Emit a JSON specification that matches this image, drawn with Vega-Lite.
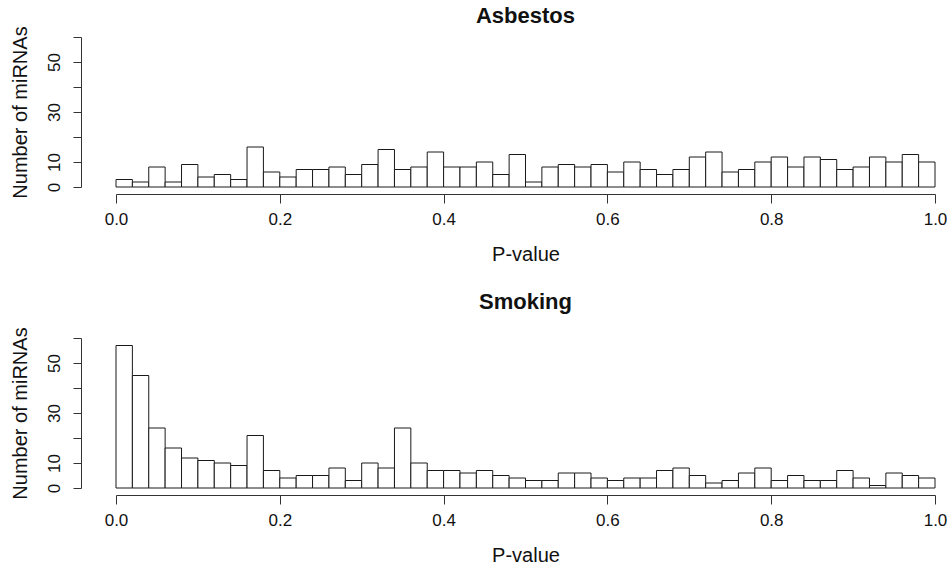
{
  "$schema": "https://vega.github.io/schema/vega-lite/v6.json",
  "padding": {"left": 9, "top": 4, "right": 0, "bottom": 0},
  "config": {
    "font": "Liberation Sans",
    "view": {"stroke": null},
    "axis": {
      "grid": false,
      "domainColor": "#333",
      "tickColor": "#333",
      "labelColor": "#111",
      "titleColor": "#111",
      "labelFont": "Liberation Sans",
      "titleFont": "Liberation Sans",
      "labelFontSize": 17,
      "titleFontSize": 20,
      "titleFontWeight": "normal",
      "labelFlush": false,
      "labelOverlap": false
    },
    "title": {"font": "Liberation Sans", "fontSize": 22, "fontWeight": "bold", "color": "#111"}
  },
  "datasets": {
    "asbestos": [
      {"p0": 0.00, "p1": 0.02, "n": 3}, {"p0": 0.02, "p1": 0.04, "n": 2}, {"p0": 0.04, "p1": 0.06, "n": 8}, {"p0": 0.06, "p1": 0.08, "n": 2}, {"p0": 0.08, "p1": 0.10, "n": 9},
      {"p0": 0.10, "p1": 0.12, "n": 4}, {"p0": 0.12, "p1": 0.14, "n": 5}, {"p0": 0.14, "p1": 0.16, "n": 3}, {"p0": 0.16, "p1": 0.18, "n": 16}, {"p0": 0.18, "p1": 0.20, "n": 6},
      {"p0": 0.20, "p1": 0.22, "n": 4}, {"p0": 0.22, "p1": 0.24, "n": 7}, {"p0": 0.24, "p1": 0.26, "n": 7}, {"p0": 0.26, "p1": 0.28, "n": 8}, {"p0": 0.28, "p1": 0.30, "n": 5},
      {"p0": 0.30, "p1": 0.32, "n": 9}, {"p0": 0.32, "p1": 0.34, "n": 15}, {"p0": 0.34, "p1": 0.36, "n": 7}, {"p0": 0.36, "p1": 0.38, "n": 8}, {"p0": 0.38, "p1": 0.40, "n": 14},
      {"p0": 0.40, "p1": 0.42, "n": 8}, {"p0": 0.42, "p1": 0.44, "n": 8}, {"p0": 0.44, "p1": 0.46, "n": 10}, {"p0": 0.46, "p1": 0.48, "n": 5}, {"p0": 0.48, "p1": 0.50, "n": 13},
      {"p0": 0.50, "p1": 0.52, "n": 2}, {"p0": 0.52, "p1": 0.54, "n": 8}, {"p0": 0.54, "p1": 0.56, "n": 9}, {"p0": 0.56, "p1": 0.58, "n": 8}, {"p0": 0.58, "p1": 0.60, "n": 9},
      {"p0": 0.60, "p1": 0.62, "n": 6}, {"p0": 0.62, "p1": 0.64, "n": 10}, {"p0": 0.64, "p1": 0.66, "n": 7}, {"p0": 0.66, "p1": 0.68, "n": 5}, {"p0": 0.68, "p1": 0.70, "n": 7},
      {"p0": 0.70, "p1": 0.72, "n": 12}, {"p0": 0.72, "p1": 0.74, "n": 14}, {"p0": 0.74, "p1": 0.76, "n": 6}, {"p0": 0.76, "p1": 0.78, "n": 7}, {"p0": 0.78, "p1": 0.80, "n": 10},
      {"p0": 0.80, "p1": 0.82, "n": 12}, {"p0": 0.82, "p1": 0.84, "n": 8}, {"p0": 0.84, "p1": 0.86, "n": 12}, {"p0": 0.86, "p1": 0.88, "n": 11}, {"p0": 0.88, "p1": 0.90, "n": 7},
      {"p0": 0.90, "p1": 0.92, "n": 8}, {"p0": 0.92, "p1": 0.94, "n": 12}, {"p0": 0.94, "p1": 0.96, "n": 10}, {"p0": 0.96, "p1": 0.98, "n": 13}, {"p0": 0.98, "p1": 1.00, "n": 10}
    ],
    "smoking": [
      {"p0": 0.00, "p1": 0.02, "n": 57}, {"p0": 0.02, "p1": 0.04, "n": 45}, {"p0": 0.04, "p1": 0.06, "n": 24}, {"p0": 0.06, "p1": 0.08, "n": 16}, {"p0": 0.08, "p1": 0.10, "n": 12},
      {"p0": 0.10, "p1": 0.12, "n": 11}, {"p0": 0.12, "p1": 0.14, "n": 10}, {"p0": 0.14, "p1": 0.16, "n": 9}, {"p0": 0.16, "p1": 0.18, "n": 21}, {"p0": 0.18, "p1": 0.20, "n": 7},
      {"p0": 0.20, "p1": 0.22, "n": 4}, {"p0": 0.22, "p1": 0.24, "n": 5}, {"p0": 0.24, "p1": 0.26, "n": 5}, {"p0": 0.26, "p1": 0.28, "n": 8}, {"p0": 0.28, "p1": 0.30, "n": 3},
      {"p0": 0.30, "p1": 0.32, "n": 10}, {"p0": 0.32, "p1": 0.34, "n": 8}, {"p0": 0.34, "p1": 0.36, "n": 24}, {"p0": 0.36, "p1": 0.38, "n": 10}, {"p0": 0.38, "p1": 0.40, "n": 7},
      {"p0": 0.40, "p1": 0.42, "n": 7}, {"p0": 0.42, "p1": 0.44, "n": 6}, {"p0": 0.44, "p1": 0.46, "n": 7}, {"p0": 0.46, "p1": 0.48, "n": 5}, {"p0": 0.48, "p1": 0.50, "n": 4},
      {"p0": 0.50, "p1": 0.52, "n": 3}, {"p0": 0.52, "p1": 0.54, "n": 3}, {"p0": 0.54, "p1": 0.56, "n": 6}, {"p0": 0.56, "p1": 0.58, "n": 6}, {"p0": 0.58, "p1": 0.60, "n": 4},
      {"p0": 0.60, "p1": 0.62, "n": 3}, {"p0": 0.62, "p1": 0.64, "n": 4}, {"p0": 0.64, "p1": 0.66, "n": 4}, {"p0": 0.66, "p1": 0.68, "n": 7}, {"p0": 0.68, "p1": 0.70, "n": 8},
      {"p0": 0.70, "p1": 0.72, "n": 5}, {"p0": 0.72, "p1": 0.74, "n": 2}, {"p0": 0.74, "p1": 0.76, "n": 3}, {"p0": 0.76, "p1": 0.78, "n": 6}, {"p0": 0.78, "p1": 0.80, "n": 8},
      {"p0": 0.80, "p1": 0.82, "n": 3}, {"p0": 0.82, "p1": 0.84, "n": 5}, {"p0": 0.84, "p1": 0.86, "n": 3}, {"p0": 0.86, "p1": 0.88, "n": 3}, {"p0": 0.88, "p1": 0.90, "n": 7},
      {"p0": 0.90, "p1": 0.92, "n": 4}, {"p0": 0.92, "p1": 0.94, "n": 1}, {"p0": 0.94, "p1": 0.96, "n": 6}, {"p0": 0.96, "p1": 0.98, "n": 5}, {"p0": 0.98, "p1": 1.00, "n": 4}
    ]
  },
  "vconcat": [
    {
      "title": {"text": "Asbestos", "anchor": "middle", "frame": "group", "baseline": "alphabetic", "offset": -19},
      "width": 819,
      "height": 150,
      "data": {"name": "asbestos"},
      "mark": {"type": "bar", "fill": "white", "stroke": "#1a1a1a", "strokeWidth": 1},
      "encoding": {
        "x": {"field": "p0", "type": "quantitative", "scale": {"domain": [0, 1], "nice": false},
          "axis": {"title": "P-value", "values": [0, 0.2, 0.4, 0.6, 0.8, 1], "format": ".1f", "offset": 7, "tickSize": 9, "labelPadding": 8, "titlePadding": 17}},
        "x2": {"field": "p1"},
        "y": {"field": "n", "type": "quantitative", "scale": {"domain": [0, 60], "nice": false},
          "axis": {"title": "Number of miRNAs", "values": [0, 10, 20, 30, 40, 50, 60], "labelExpr": "datum.value == 20 || datum.value == 40 || datum.value == 60 ? '' : datum.label", "labelAngle": 270, "labelAlign": "center", "labelBaseline": "alphabetic", "offset": 35, "tickSize": 8, "labelPadding": 14, "titlePadding": 15}},
        "y2": {"datum": 0}
      }
    },
    {
      "title": {"text": "Smoking", "anchor": "middle", "frame": "group", "baseline": "alphabetic", "offset": -4},
      "width": 819,
      "height": 150,
      "data": {"name": "smoking"},
      "mark": {"type": "bar", "fill": "white", "stroke": "#1a1a1a", "strokeWidth": 1},
      "encoding": {
        "x": {"field": "p0", "type": "quantitative", "scale": {"domain": [0, 1], "nice": false},
          "axis": {"title": "P-value", "values": [0, 0.2, 0.4, 0.6, 0.8, 1], "format": ".1f", "offset": 7, "tickSize": 9, "labelPadding": 8, "titlePadding": 17}},
        "x2": {"field": "p1"},
        "y": {"field": "n", "type": "quantitative", "scale": {"domain": [0, 60], "nice": false},
          "axis": {"title": "Number of miRNAs", "values": [0, 10, 20, 30, 40, 50, 60], "labelExpr": "datum.value == 20 || datum.value == 40 || datum.value == 60 ? '' : datum.label", "labelAngle": 270, "labelAlign": "center", "labelBaseline": "alphabetic", "offset": 35, "tickSize": 8, "labelPadding": 14, "titlePadding": 15}},
        "y2": {"datum": 0}
      }
    }
  ],
  "bounds": "flush",
  "spacing": 151
}
